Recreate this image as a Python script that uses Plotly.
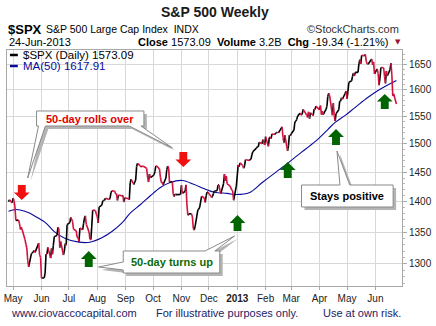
import plotly.graph_objects as go
import pandas as pd

# ---------------- data ----------------
close_2012_04 = [1399.98, 1403.36, 1397.91]
close_2012_05 = [1405.82, 1402.31, 1391.57, 1369.10, 1369.58, 1363.72, 1354.58, 1357.99, 1353.39, 1338.35,
                 1330.66, 1324.80, 1304.86, 1295.22, 1315.99, 1316.63, 1318.86, 1320.68, 1317.82, 1332.42,
                 1313.32, 1310.33]
close_2012_06 = [1278.04, 1278.18, 1285.50, 1315.13, 1314.99, 1325.66, 1308.93, 1324.18, 1314.88, 1329.10,
                 1342.84, 1344.78, 1357.98, 1355.69, 1325.51, 1335.02, 1313.72, 1319.99, 1331.85, 1329.04,
                 1362.16]
close_2012_07 = [1365.51, 1374.02, 1367.58, 1354.68, 1352.46, 1341.47, 1341.45, 1334.76, 1356.78, 1353.64,
                 1363.67, 1372.78, 1376.51, 1362.66, 1350.52, 1338.31, 1337.89, 1360.02, 1385.97, 1385.30,
                 1379.32]
close_2012_08 = [1375.32, 1365.00, 1390.99, 1394.23, 1401.35, 1402.22, 1402.80, 1405.87, 1404.11, 1403.93,
                 1405.53, 1415.51, 1418.16, 1418.13, 1413.17, 1413.49, 1402.08, 1411.13, 1410.44, 1409.30,
                 1410.49, 1399.48, 1406.58]
close_2012_09 = [1404.94, 1403.44, 1432.12, 1437.92, 1429.08, 1433.56, 1436.56, 1459.99, 1465.77, 1461.19,
                 1459.32, 1461.05, 1460.26, 1460.15, 1456.89, 1441.59, 1433.32, 1447.15, 1440.67]
close_2012_10 = [1444.49, 1445.75, 1450.99, 1461.40, 1460.93, 1455.88, 1441.48, 1432.56, 1432.84, 1428.59,
                 1440.13, 1454.92, 1460.91, 1457.34, 1433.19, 1433.82, 1413.11, 1408.75, 1412.97, 1411.94,
                 1412.16]
close_2012_11 = [1427.59, 1414.20, 1417.26, 1428.39, 1394.53, 1377.51, 1379.85, 1380.03, 1374.53, 1355.49,
                 1353.33, 1359.88, 1386.89, 1387.81, 1391.03, 1409.15, 1406.29, 1398.94, 1409.93, 1415.95,
                 1416.18]
close_2012_12 = [1409.46, 1407.05, 1409.28, 1413.94, 1418.07, 1418.55, 1427.84, 1428.48, 1419.45, 1413.58,
                 1430.36, 1446.79, 1435.81, 1443.69, 1430.15, 1426.66, 1419.83, 1418.10, 1402.43, 1426.19]
close_2013_01 = [1462.42, 1459.37, 1466.47, 1461.89, 1457.15, 1461.02, 1472.12, 1472.05, 1470.68, 1472.34,
                 1472.63, 1480.94, 1485.98, 1492.56, 1494.81, 1494.82, 1502.96, 1500.18, 1507.84, 1501.96,
                 1498.11]
close_2013_02 = [1513.17, 1495.71, 1511.29, 1512.12, 1509.39, 1517.93, 1517.01, 1519.43, 1520.33, 1521.38,
                 1519.79, 1530.94, 1511.95, 1502.42, 1515.60, 1487.85, 1496.94, 1515.99, 1514.68]
close_2013_03 = [1518.20, 1525.20, 1539.79, 1541.46, 1544.26, 1551.18, 1556.22, 1552.48, 1554.52, 1563.23,
                 1560.70, 1552.10, 1548.34, 1558.71, 1545.80, 1556.89, 1551.69, 1563.77, 1562.85, 1569.19]
close_2013_04 = [1562.17, 1570.25, 1553.69, 1559.98, 1553.28, 1563.07, 1568.61, 1587.73, 1593.37, 1588.85,
                 1552.36, 1574.57, 1552.01, 1541.61, 1555.25, 1562.50, 1578.78, 1578.79, 1585.16, 1582.24,
                 1593.61, 1597.57]
close_2013_05 = [1582.70, 1597.59, 1614.42, 1617.50, 1625.96, 1632.69, 1626.67, 1633.70, 1633.77, 1650.34,
                 1658.78, 1650.47, 1667.47, 1666.29, 1669.16, 1655.35, 1650.51, 1649.60, 1660.06, 1648.36,
                 1654.41, 1630.74]
close_2013_06 = [1640.42, 1631.38, 1608.90, 1622.56, 1643.38, 1642.81, 1626.13, 1612.52, 1636.36, 1626.73,
                 1639.04, 1651.81, 1628.93, 1588.19, 1592.43, 1573.09]

market_holidays = ["2012-05-28", "2012-07-04", "2012-09-03", "2012-10-29", "2012-10-30", "2012-11-22",
                   "2012-12-25", "2013-01-01", "2013-01-21", "2013-02-18", "2013-03-29", "2013-05-27"]

ma_dates = ["2012-04-26", "2012-05-04", "2012-05-14", "2012-05-25", "2012-06-05", "2012-06-15",
            "2012-06-27", "2012-07-12", "2012-07-24", "2012-08-06", "2012-08-17", "2012-08-28",
            "2012-09-06", "2012-09-17", "2012-09-28", "2012-10-09", "2012-10-19", "2012-11-02",
            "2012-11-15", "2012-11-26", "2012-12-07", "2012-12-21", "2012-12-31", "2013-01-14",
            "2013-01-28", "2013-02-12", "2013-02-26", "2013-03-12", "2013-03-27", "2013-04-10",
            "2013-04-18", "2013-04-29", "2013-05-10", "2013-05-24", "2013-06-07", "2013-06-24"]
ma_values = [1384, 1387, 1384, 1376, 1366, 1351, 1340, 1334, 1334, 1341, 1351, 1365,
             1381, 1395, 1410, 1424, 1432, 1436, 1429, 1422, 1416, 1414, 1412, 1415,
             1432, 1450, 1467, 1485, 1504, 1526, 1539, 1552, 1567, 1586, 1602, 1618]

y_ticks = [1300, 1350, 1400, 1450, 1500, 1550, 1600, 1650]
month_ticks = ["2012-05-01", "2012-06-01", "2012-07-01", "2012-08-01", "2012-09-01", "2012-10-01",
               "2012-11-01", "2012-12-01", "2013-01-01", "2013-02-01", "2013-03-01", "2013-04-01",
               "2013-05-01", "2013-06-01"]
month_labels = ["May", "Jun", "Jul", "Aug", "Sep", "Oct", "Nov", "Dec", "<b>2013</b>", "Feb", "Mar",
                "Apr", "May", "Jun"]

# ---------------- build ----------------
closes = (close_2012_04 + close_2012_05 + close_2012_06 + close_2012_07 + close_2012_08 + close_2012_09 +
          close_2012_10 + close_2012_11 + close_2012_12 + close_2013_01 + close_2013_02 + close_2013_03 +
          close_2013_04 + close_2013_05 + close_2013_06)
dates = pd.bdate_range("2012-04-26", "2013-06-24", freq="C", holidays=market_holidays)
assert len(dates) == len(closes), (len(dates), len(closes))
dates = [d.strftime("%Y-%m-%d") for d in dates]

up_x, up_y, dn_x, dn_y = [], [], [], []
for i in range(1, len(closes)):
    if closes[i] < closes[i - 1]:
        dn_x += [dates[i - 1], dates[i], None]
        dn_y += [closes[i - 1], closes[i], None]
    else:
        up_x += [dates[i - 1], dates[i], None]
        up_y += [closes[i - 1], closes[i], None]

W, H = 436, 326
L, R, T, B = 4, 405, 50, 286
FONT = "Liberation Sans, Arial, sans-serif"


def px(x):
    return (x - L) / (R - L)


def py(y):
    return (B - y) / (B - T)


def path(points, dx=0, dy=0):
    s = ""
    for k, (x, y) in enumerate(points):
        s += ("M" if k == 0 else "L") + f"{px(x + dx):.5f},{py(y + dy):.5f} "
    return s + "Z"


def label(x, y, text, size, color, anchor="center", family=FONT):
    return dict(x=px(x), y=py(y), xref="paper", yref="paper", xanchor=anchor, yanchor="middle",
                text=text, showarrow=False, font=dict(family=family, size=size, color=color))


fig = go.Figure()
fig.add_trace(go.Scatter(x=ma_dates, y=ma_values, mode="lines", line=dict(color="#0a0a9a", width=1.1),
                         line_shape="spline", hoverinfo="skip"))
fig.add_trace(go.Scatter(x=up_x, y=up_y, mode="lines", line=dict(color="#000000", width=1.6),
                         hoverinfo="skip"))
fig.add_trace(go.Scatter(x=dn_x, y=dn_y, mode="lines", line=dict(color="#d4123f", width=1.6),
                         hoverinfo="skip"))

shapes = []
annotations = []

# callout boxes
callouts = [
    ([(34, 111), (143, 111), (143, 126), (140, 126), (172, 148), (128, 126), (43, 126), (25, 178),
      (36, 126), (34, 126)], "50-day rolls over", "#e00000", (88.5, 118.5)),
    ([(122, 251), (205, 251), (235, 236), (215, 251), (220, 251), (220, 273), (122, 273), (122, 270),
      (97, 267), (122, 262)], "50-day turns up", "#0b6b0b", (171, 262)),
    ([(303, 185), (342, 185), (339, 151), (352, 185), (396, 185), (396, 207), (303, 207)],
     "Stays positive", "#000000", (349.5, 196)),
]
for pts, text, col, (cx, cy) in callouts:
    shapes.append(dict(type="path", xref="paper", yref="paper", path=path(pts, 3, 3),
                       fillcolor="#b4b4b4", line=dict(width=0)))
    shapes.append(dict(type="path", xref="paper", yref="paper", path=path(pts),
                       fillcolor="#ffffff", line=dict(color="#8a8a8a", width=1)))
    annotations.append(label(cx, cy, f"<b>{text}</b>", 11, col))


# block arrows
def down_arrow(cx, ty, by):
    m = ty + (by - ty) * 0.5
    return [(cx - 4, ty), (cx + 4, ty), (cx + 4, m), (cx + 8, m), (cx, by), (cx - 8, m), (cx - 4, m)]


def up_arrow(cx, ty, by):
    m = ty + (by - ty) * 0.5
    return [(cx, ty), (cx + 8, m), (cx + 4, m), (cx + 4, by), (cx - 4, by), (cx - 4, m), (cx - 8, m)]


for cx, ty, by in [(19, 185, 200), (183, 152, 167)]:
    shapes.append(dict(type="path", xref="paper", yref="paper", path=path(down_arrow(cx, ty, by)),
                       fillcolor="#f01010", line=dict(width=0)))
for cx, ty, by in [(87, 251, 267), (238, 215, 231), (289, 162, 178), (338, 129, 145), (387.5, 94, 109)]:
    shapes.append(dict(type="path", xref="paper", yref="paper", path=path(up_arrow(cx, ty, by)),
                       fillcolor="#006400", line=dict(width=0)))

# legend inside plot
shapes.append(dict(type="line", xref="paper", yref="paper", x0=px(7), x1=px(15), y0=py(55), y1=py(55),
                   line=dict(color="#000000", width=2.5)))
shapes.append(dict(type="line", xref="paper", yref="paper", x0=px(7), x1=px(15), y0=py(66), y1=py(66),
                   line=dict(color="#0a0a9a", width=2.5)))
annotations.append(label(18, 55, "$SPX (Daily) 1573.09", 11.5, "#000000", "left"))
annotations.append(label(18, 66, "MA(50) 1617.91", 11.5, "#0a0a9a", "left"))

# header
annotations.append(label(215, 12, "<b>S&P 500 Weekly</b>", 14, "#1a1a1a"))
annotations.append(label(3, 29, "<b>$SPX</b>", 13, "#000000", "left"))
annotations.append(label(42, 29.5, "S&P 500 Large Cap Index  INDX", 10.5, "#000000", "left"))
annotations.append(label(404, 29.5, "©StockCharts.com", 11, "#333333", "right"))
annotations.append(label(4, 42.5, "24-Jun-2013", 11, "#000000", "left"))
annotations.append(label(394, 42.5, "<b>Close</b> 1573.09  <b>Volume</b> 3.2B  <b>Chg</b> -19.34 (-1.21%)",
                         11, "#000000", "right"))
annotations.append(label(400.5, 42, "▼", 7, "#9b1030", "center", "DejaVu Sans"))

# footer
for x0, txt in [(6, "www.ciovaccocapital.com"), (153, "For illustrative purposes only."),
                (323, "Use at own risk.")]:
    annotations.append(label(x0, 313, txt, 11, "#1c2366", "left"))

fig.update_layout(
    width=W, height=H,
    margin=dict(l=L, r=W - R, t=T, b=H - B, pad=0),
    paper_bgcolor="#ffffff", plot_bgcolor="#ffffff",
    showlegend=False,
    shapes=shapes, annotations=annotations,
    font=dict(family=FONT, size=10, color="#222222"),
    xaxis=dict(type="date", range=["2012-04-24 08:00", "2013-06-30 02:00"],
               tickvals=month_ticks, ticktext=month_labels, tickangle=0,
               showgrid=True, gridcolor="#d8d8d8", gridwidth=1,
               showline=True, linecolor="#a8a8a8", mirror=True,
               ticks="outside", ticklen=3, tickcolor="#a8a8a8",
               tickfont=dict(family=FONT, size=10, color="#222222"), zeroline=False),
    yaxis=dict(type="log", side="right", range=[3.10243, 3.22479],
               tickvals=y_ticks, ticktext=[str(v) for v in y_ticks],
               showgrid=True, gridcolor="#d8d8d8", gridwidth=1,
               showline=True, linecolor="#a8a8a8", mirror=True,
               ticks="outside", ticklen=4, tickcolor="#a8a8a8",
               minor=dict(tickmode="array", tickvals=list(range(1270, 1680, 10)), ticks="outside",
                          ticklen=2, tickcolor="#b8b8b8", showgrid=False),
               tickfont=dict(family=FONT, size=10, color="#222222"), zeroline=False),
)

fig.write_html("out.html")
